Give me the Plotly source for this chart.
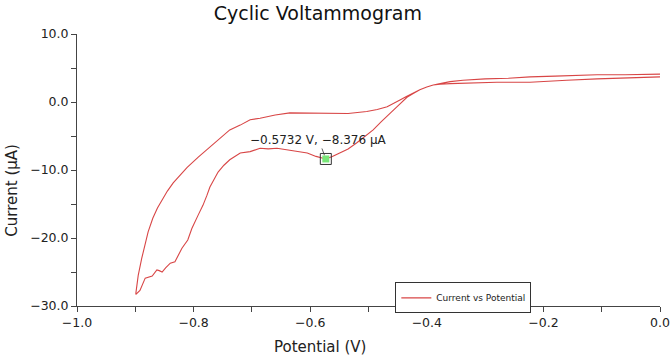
import plotly.graph_objects as go

# ---- data ----
potential_fwd = [0.0, -0.05, -0.108, -0.16, -0.223, -0.28, -0.338, -0.36, -0.377, -0.389, -0.40, -0.412,
                 -0.424, -0.434, -0.45, -0.463, -0.478, -0.492, -0.506, -0.520, -0.535, -0.549, -0.562,
                 -0.5732, -0.59, -0.605, -0.620, -0.635, -0.647, -0.657, -0.672, -0.686, -0.703, -0.720,
                 -0.738, -0.748, -0.758, -0.765, -0.772, -0.777, -0.784, -0.792, -0.803, -0.810, -0.820,
                 -0.832, -0.840, -0.848, -0.854, -0.859, -0.863, -0.871, -0.883, -0.892, -0.899]
current_fwd = [3.7, 3.6, 3.4, 3.2, 2.9, 2.9, 2.8, 2.7, 2.6, 2.5, 2.2, 1.8,
               1.2, 0.7, -0.6, -1.6, -2.9, -4.1, -5.1, -6.0, -6.9, -7.5, -8.0,
               -8.376, -8.0, -7.5, -7.3, -7.1, -6.9, -6.8, -6.9, -6.8, -7.3, -7.5,
               -8.5, -9.3, -10.3, -11.3, -12.5, -13.7, -15.2, -16.6, -18.6, -20.3, -21.5,
               -23.5, -23.7, -24.4, -25.0, -24.8, -24.7, -25.6, -25.9, -27.7, -28.3]

potential_rev = [-0.899, -0.895, -0.889, -0.883, -0.878, -0.870, -0.862, -0.854, -0.845, -0.835, -0.823,
                 -0.811, -0.792, -0.772, -0.755, -0.738, -0.720, -0.703, -0.686, -0.660, -0.635, -0.610,
                 -0.585, -0.560, -0.535, -0.503, -0.485, -0.468, -0.456, -0.446, -0.435, -0.424, -0.412,
                 -0.400, -0.389, -0.377, -0.36, -0.338, -0.30, -0.26, -0.223, -0.18, -0.14, -0.108,
                 -0.06, -0.03, 0.0]
current_rev = [-28.1, -25.5, -23.0, -21.0, -19.1, -17.1, -15.6, -14.4, -13.1, -11.9, -10.7,
               -9.6, -8.1, -6.6, -5.3, -4.1, -3.4, -2.6, -2.4, -1.9, -1.6, -1.6,
               -1.7, -1.6, -1.7, -1.4, -1.1, -0.7, -0.2, 0.3, 0.8, 1.3, 1.8,
               2.2, 2.5, 2.7, 3.0, 3.2, 3.4, 3.5, 3.7, 3.8, 3.9, 4.0,
               4.0, 4.1, 4.1]

cursor_v = -0.5732
cursor_i = -8.376
cursor_label = "\u22120.5732 V, \u22128.376 \u03bcA"

x_tickvals = [-1.0, -0.9, -0.8, -0.7, -0.6, -0.5, -0.4, -0.3, -0.2, -0.1, 0.0]
x_ticktext = ["\u22121.0", "", "\u22120.8", "", "\u22120.6", "", "\u22120.4", "", "\u22120.2", "", "0.0"]
y_tickvals = [10, 5, 0, -5, -10, -15, -20, -25, -30]
y_ticktext = ["10.0", "", "0.0", "", "\u221210.0", "", "\u221220.0", "", "\u221230.0"]

FONT = "'DejaVu Sans', sans-serif"
RED = "rgb(216,70,70)"
AX = "#444444"

fig = go.Figure()
fig.add_trace(go.Scatter(
    x=potential_fwd + potential_rev,
    y=current_fwd + current_rev,
    mode="lines",
    line=dict(color=RED, width=1.1),
    name="Current vs Potential",
))
fig.add_trace(go.Scatter(
    x=[cursor_v], y=[cursor_i], mode="markers",
    marker=dict(symbol="square-open", size=11, color="#333333", line=dict(width=1, color="#333333")),
    showlegend=False, hoverinfo="skip",
))
fig.add_trace(go.Scatter(
    x=[cursor_v], y=[cursor_i], mode="markers",
    marker=dict(symbol="square", size=7, color="rgb(120,230,120)", line=dict(width=0)),
    showlegend=False, hoverinfo="skip",
))

fig.add_annotation(
    x=cursor_v, y=cursor_i, xref="x", yref="y",
    text=cursor_label, showarrow=True, ax=-7, ay=-19,
    arrowhead=0, arrowwidth=0.8, arrowcolor="#333333", standoff=4,
    font=dict(family=FONT, size=12, color="#222222"),
)
# axis titles (offset from axis centres, as in the reference)
fig.add_annotation(
    text="Potential (V)", xref="paper", yref="paper", x=0.417, y=-0.151,
    xanchor="center", yanchor="middle", showarrow=False,
    font=dict(family=FONT, size=15, color="#222222"),
)
fig.add_annotation(
    text="Current (\u03bcA)", xref="paper", yref="paper", x=-0.1106, y=0.426,
    xanchor="center", yanchor="middle", showarrow=False, textangle=-90,
    font=dict(family=FONT, size=15, color="#222222"),
)

fig.update_layout(
    width=672, height=360,
    margin=dict(l=77, r=12, t=34, b=54),
    paper_bgcolor="white", plot_bgcolor="white",
    title=dict(text="Cyclic Voltammogram", x=0.473, xanchor="center", y=0.963, yanchor="middle",
               font=dict(family=FONT, size=19, color="#111111")),
    font=dict(family=FONT, color="#222222"),
    showlegend=True,
    legend=dict(x=0.546, y=0.087, xanchor="left", yanchor="top",
                bgcolor="white", bordercolor="#333333", borderwidth=1,
                font=dict(family=FONT, size=9, color="#222222"),
                itemwidth=30, tracegroupgap=0),
)
fig.update_xaxes(
    range=[-1.0, 0.0], tickvals=x_tickvals, ticktext=x_ticktext, automargin=False,
    showgrid=False, zeroline=False, showline=True, linecolor=AX, linewidth=1,
    ticks="outside", ticklen=5, tickcolor=AX, tickfont=dict(size=12.5, family=FONT),
)
fig.update_yaxes(
    range=[-30, 10], tickvals=y_tickvals, ticktext=y_ticktext, automargin=False,
    showgrid=False, zeroline=False, showline=True, linecolor=AX, linewidth=1,
    ticks="outside", ticklen=5, tickcolor=AX, tickfont=dict(size=12.5, family=FONT),
)

fig.write_html("out.html", config={"displayModeBar": False},
               post_script="document.body.style.margin='0';")
